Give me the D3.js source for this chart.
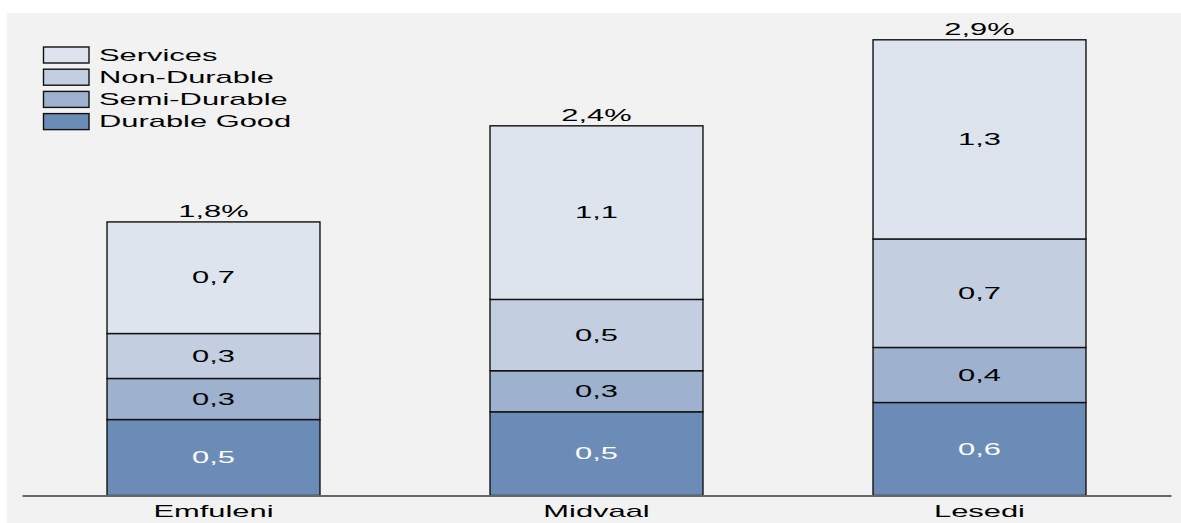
<!DOCTYPE html>
<html>
<head>
<meta charset="utf-8">
<script src="https://cdn.jsdelivr.net/npm/d3@7"></script>
<style>
  html, body { margin: 0; padding: 0; background: #ffffff; }
  svg { display: block; }
  text { font-family: "Liberation Sans", Arial, sans-serif; font-size: 16px; }
</style>
</head>
<body>
<svg id="chart" width="1181" height="523"></svg>
<script>
// ---- data ----
const categories = ["Emfuleni", "Midvaal", "Lesedi"];
const seriesNames = ["Durable Good", "Semi-Durable", "Non-Durable", "Services"];
const durableGood = [0.49, 0.54, 0.60];
const semiDurable = [0.265, 0.265, 0.355];
const nonDurable = [0.29, 0.46, 0.70];
const services = [0.72, 1.12, 1.285];
const seriesColors = ["#6c8cb8", "#9eb1cf", "#c3cee1", "#dee4ee"];
const labelColors = ["#ffffff", "#000000", "#000000", "#000000"];
const legendOrder = ["Services", "Non-Durable", "Semi-Durable", "Durable Good"];

const seriesValues = [durableGood, semiDurable, nonDurable, services];
const rows = categories.map((c, i) => {
  const r = { category: c };
  seriesNames.forEach((s, j) => r[s] = seriesValues[j][i]);
  return r;
});

const SX = 1.93; // horizontal stretch of the reference's text
const fmt = v => d3.format(".1f")(v).replace(".", ",");

const svg = d3.select("#chart");
svg.append("rect").attr("x", 7).attr("y", 13).attr("width", 1174).attr("height", 510).attr("fill", "#f2f2f2");

const x = d3.scaleBand().domain(categories).range([22, 1171]).paddingInner(0.444).paddingOuter(0.222);
const y = d3.scaleLinear().domain([0, 3]).range([495.5, 30.5]);
const color = d3.scaleOrdinal().domain(seriesNames).range(seriesColors);
const labelColor = d3.scaleOrdinal().domain(seriesNames).range(labelColors);

const stack = d3.stack().keys(seriesNames)(rows);

function stretchedText(g, tx, ty, str, anchor, fill) {
  return g.append("text")
    .attr("transform", `translate(${tx},${ty}) scale(${SX},1)`)
    .attr("text-anchor", anchor)
    .attr("fill", fill)
    .text(str);
}

// bars
const layers = svg.append("g").selectAll("g").data(stack).join("g")
  .attr("fill", d => color(d.key));
layers.selectAll("rect").data(d => d).join("rect")
  .attr("x", d => x(d.data.category))
  .attr("width", x.bandwidth())
  .attr("y", d => y(d[1]))
  .attr("height", d => y(d[0]) - y(d[1]))
  .attr("stroke", "#111")
  .attr("stroke-width", 1.4);

// segment labels
const lab = svg.append("g");
stack.forEach(layer => {
  layer.forEach(d => {
    const cx = x(d.data.category) + x.bandwidth() / 2;
    const cy = (y(d[0]) + y(d[1])) / 2 + 5.6;
    stretchedText(lab, cx, cy, fmt(d[1] - d[0]), "middle", labelColor(layer.key));
  });
});

// totals
rows.forEach((r, i) => {
  const total = d3.sum(seriesNames, s => r[s]);
  stretchedText(lab, x(r.category) + x.bandwidth() / 2, y(total) - 4.5, fmt(total) + "%", "middle", "#000");
});

// axis
const axisG = svg.append("g").attr("transform", `translate(0,${y(0)})`)
  .call(d3.axisBottom(x).tickSize(0).tickPadding(0));
axisG.select(".domain").attr("stroke", "#666").attr("stroke-width", 1.8);
axisG.selectAll(".tick text").remove();
axisG.selectAll(".tick").each(function(d) {
  stretchedText(d3.select(this), 0, 21, d, "middle", "#000");
});

// legend
const leg = svg.append("g");
legendOrder.forEach((s, i) => {
  const yy = 47 + i * 22.2;
  leg.append("rect").attr("x", 43.5).attr("y", yy).attr("width", 45.5).attr("height", 16)
    .attr("fill", color(s)).attr("stroke", "#111").attr("stroke-width", 1.4);
  stretchedText(leg, 99, yy + 13.7, s, "start", "#000");
});
</script>
</body>
</html>
